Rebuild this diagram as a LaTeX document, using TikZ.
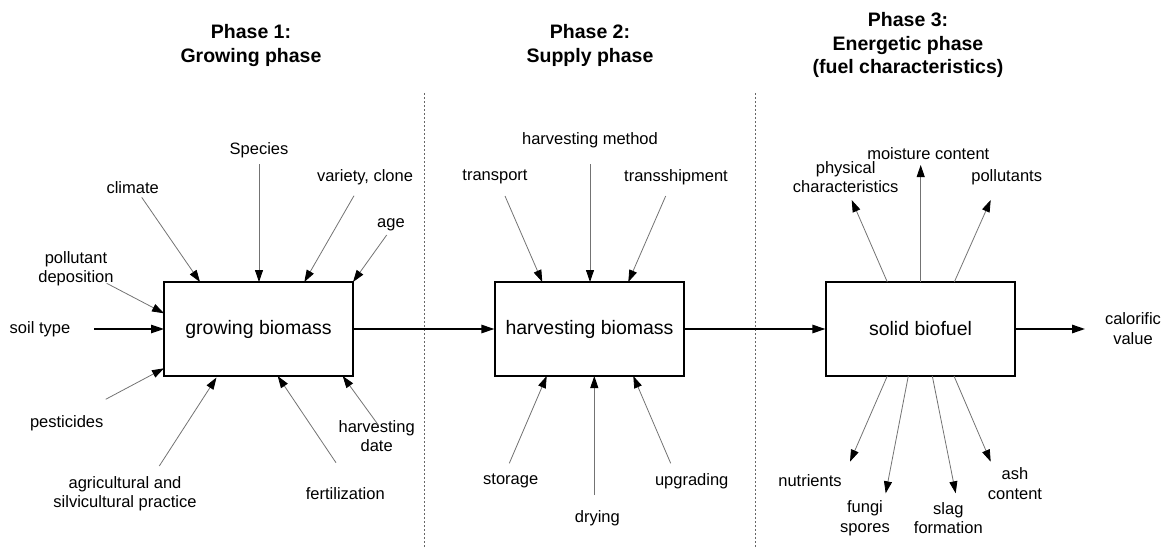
\documentclass[tikz,border=0pt]{standalone}
\usepackage{fontspec}
\setmainfont{Liberation Sans}
\usetikzlibrary{arrows.meta}
\begin{document}
\begin{tikzpicture}[x=1pt,y=-1pt,
 box/.style={draw,line width=1.3pt,minimum width=189pt,minimum height=94pt,inner sep=0,font=\fontsize{19.5}{23}\selectfont},
 lbl/.style={inner sep=0,align=center,font=\fontsize{16.5}{19.5}\selectfont},
 ttl/.style={inner sep=0,align=center,font=\fontsize{19.5}{23.5}\selectfont\bfseries},
 thin/.style={draw=black!55,line width=0.8pt,-{Triangle[length=12pt,width=8pt,color=black]}},
 main/.style={draw=black,line width=1.4pt,-{Triangle[length=13pt,width=8.5pt]}},
 sep/.style={draw=black!60,line width=0.6pt,dash pattern=on 2pt off 2pt}]
\useasboundingbox (0,0) rectangle (1163,549);

% titles
\node[ttl] (t1) at (251,45.5) {Phase 1:\\Growing phase};
\node[ttl] (t2) at (590,45.5) {Phase 2:\\Supply phase};
\node[ttl] (t3) at (908,45) {Phase 3:\\Energetic phase\\(fuel characteristics)};

% separators
\coordinate (s1a) at (424.5,93); \coordinate (s1b) at (424.5,549);
\coordinate (s2a) at (755,93); \coordinate (s2b) at (755,549);
\draw[sep] (s1a) -- (s1b);
\draw[sep] (s2a) -- (s2b);

% boxes
\node[box] (b1) at (258.5,329) {growing biomass};
\node[box] (b2) at (589.5,329) {harvesting biomass};
\node[box] (b3) at (920.5,329) {solid biofuel};

% main flow
\coordinate (cv) at (1085,329);
\draw[main] (b1.east) -- (b2.west);
\draw[main] (b2.east) -- (b3.west);
\draw[main] (b3.east) -- (cv);
\node[lbl] (calv) at (1133,328.5) {calorific\\value};

% ---- phase 1 inputs
\node[lbl] (clim) at (132.7,187.3) {climate};
\coordinate (clim1) at (141.7,197.3); \coordinate (clim2) at (200,282);
\draw[thin] (clim1) -- (clim2);

\node[lbl] (spec) at (259,150.7) {Species};
\coordinate (spec1) at (259,164.3); \coordinate (spec2) at (259,282);
\draw[thin] (spec1) -- (spec2);

\node[lbl] (vari) at (365,177.7) {variety, clone};
\coordinate (vari1) at (354,195.7); \coordinate (vari2) at (304.3,282);
\draw[thin] (vari1) -- (vari2);

\node[lbl] (age) at (391,225) {age};
\coordinate (age1) at (386.7,235); \coordinate (age2) at (353,282);
\draw[thin] (age1) -- (age2);

\node[lbl] (poll) at (76,268.8) {pollutant\\deposition};
\coordinate (poll1) at (106.7,283.3); \coordinate (poll2) at (164,313.3);
\draw[thin] (poll1) -- (poll2);

\node[lbl] (soil) at (40,329.3) {soil type};
\coordinate (soil1) at (94,329); \coordinate (soil2) at (164,329);
\draw[main,line width=1.2pt] (soil1) -- (soil2);

\node[lbl] (pest) at (66.7,423.3) {pesticides};
\coordinate (pest1) at (105.7,399.3); \coordinate (pest2) at (164,368.3);
\draw[thin] (pest1) -- (pest2);

\node[lbl] (agri) at (125,493.7) {agricultural and\\silvicultural practice};
\coordinate (agri1) at (159.3,466); \coordinate (agri2) at (216.5,377.5);
\draw[thin] (agri1) -- (agri2);

\node[lbl] (fert) at (345.3,493.3) {fertilization};
\coordinate (fert1) at (336,462.7); \coordinate (fert2) at (277.7,376);
\draw[thin] (fert1) -- (fert2);

\node[lbl] (hdat) at (376.7,436.2) {harvesting\\date};
\coordinate (hdat1) at (378.3,425); \coordinate (hdat2) at (342.7,376);
\draw[thin] (hdat1) -- (hdat2);

% ---- phase 2 inputs
\node[lbl] (hmet) at (590,140) {harvesting method};
\coordinate (hmet1) at (590,164.3); \coordinate (hmet2) at (590,282);
\draw[thin] (hmet1) -- (hmet2);

\node[lbl] (tran) at (495,177.3) {transport};
\coordinate (tran1) at (505,196); \coordinate (tran2) at (542.3,282);
\draw[thin] (tran1) -- (tran2);

\node[lbl] (tshp) at (676,177.3) {transshipment};
\coordinate (tshp1) at (665.7,196); \coordinate (tshp2) at (628.3,282);
\draw[thin] (tshp1) -- (tshp2);

\node[lbl] (stor) at (510.7,481) {storage};
\coordinate (stor1) at (509.3,463.3); \coordinate (stor2) at (546.7,376);
\draw[thin] (stor1) -- (stor2);

\node[lbl] (dryi) at (597.3,518.3) {drying};
\coordinate (dryi1) at (594.3,495); \coordinate (dryi2) at (594.3,376);
\draw[thin] (dryi1) -- (dryi2);

\node[lbl] (upgr) at (691.7,481) {upgrading};
\coordinate (upgr1) at (670.7,463.3); \coordinate (upgr2) at (633.3,376);
\draw[thin] (upgr1) -- (upgr2);

% ---- phase 3 outputs
\node[lbl] (mois) at (928.3,153.3) {moisture content};
\coordinate (mois1) at (920.7,282); \coordinate (mois2) at (920.7,165);
\draw[thin] (mois1) -- (mois2);

\node[lbl] (phys) at (845.7,177.3) {physical\\characteristics};
\coordinate (phys1) at (887.3,282); \coordinate (phys2) at (851.7,200);
\draw[thin] (phys1) -- (phys2);

\node[lbl] (polu) at (1006.7,177.3) {pollutants};
\coordinate (polu1) at (954.3,282); \coordinate (polu2) at (990.7,200);
\draw[thin] (polu1) -- (polu2);

\node[lbl] (nutr) at (810,481) {nutrients};
\coordinate (nutr1) at (887.3,376); \coordinate (nutr2) at (850,461.7);
\draw[thin] (nutr1) -- (nutr2);

\node[lbl] (fung) at (865,518) {fungi\\spores};
\coordinate (fung1) at (908.3,376); \coordinate (fung2) at (885.7,493.3);
\draw[thin] (fung1) -- (fung2);

\node[lbl] (slag) at (948.3,518) {slag\\formation};
\coordinate (slag1) at (932.3,376); \coordinate (slag2) at (955.7,493.3);
\draw[thin] (slag1) -- (slag2);

\node[lbl] (ashc) at (1015,483.7) {ash\\content};
\coordinate (ashc1) at (954,376); \coordinate (ashc2) at (990.7,461.7);
\draw[thin] (ashc1) -- (ashc2);
\end{tikzpicture}
\end{document}
